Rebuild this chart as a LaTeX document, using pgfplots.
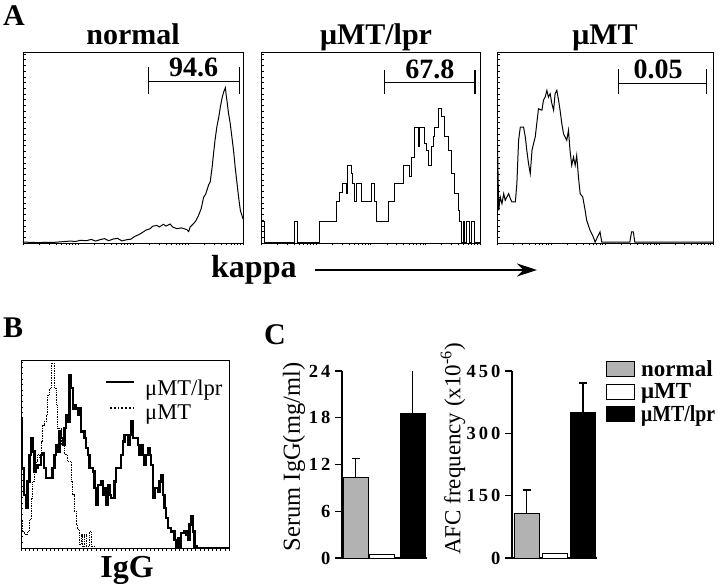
\documentclass[border=0pt]{standalone}
\usepackage{pgfplots}
\pgfplotsset{compat=1.18}
\usepackage{graphicx}
\usetikzlibrary{arrows.meta}
\usepackage{fontspec}
\setmainfont{Liberation Serif}
\newcommand{\fs}[1]{\fontsize{#1}{#1}\selectfont}
\begin{document}
\begin{tikzpicture}[x=1pt,y=1pt]
\useasboundingbox (0pt,0pt) rectangle (720pt,587pt);
\pgfplotsset{
  hist/.style={scale only axis, anchor=south west, xmin=0, xmax=100, ymin=0, ymax=100,
    axis line style={line width=0.9pt},
    xtick={0,7.5,11.9,15.1,17.5,19.5,21.1,22.6,23.9,25,32.5,36.9,40.1,42.5,44.5,46.1,47.6,48.9,50,57.5,61.9,65.1,67.5,69.5,71.1,72.6,73.9,75,82.5,86.9,90.1,92.5,94.5,96.1,97.6,98.9,100},
    xticklabels={}, ytick={0,3,...,99}, yticklabels={},
    xtick pos=bottom, ytick pos=left, xtick align=outside, ytick align=inside,
    major tick length=2.5pt, tick style={line width=0.5pt, black}},
  bars/.style={scale only axis, anchor=south west, width=85pt, height=187pt,
    xmin=0, xmax=85, ymin=0, axis lines=left, axis line style={line width=1.3pt, -},
    xtick=\empty, ytick pos=left, ytick align=outside, major tick length=7pt,
    tick style={line width=1.3pt, black},
    yticklabel style={font=\fs{18.5}\bfseries, xshift=-1pt},
    /pgf/number format/assume math mode=true,
    ybar, bar width=25, bar shift=0pt,
    error bars/y dir=plus, error bars/y explicit, error bars/error bar style={line width=1.3pt},
    error bars/error mark options={line width=1.3pt, mark size=4pt, rotate=90}},
}
% ---------- Panel A ----------
\node[anchor=base west, font=\fs{30}\bfseries, inner sep=0] at (3pt,561pt) {A};
\begin{axis}[hist, at={(23pt,344pt)}, width=220pt, height=191pt]
\addplot[black, line width=1pt] coordinates {
(0,0.5)(4,0.3)(7.6,0.2)(10,0.4)(13.7,0.3)(17,0.6)(21.3,1.0)(24,0.8)(26,1.4)(28.9,1.2)
(31,1.9)(33,1.0)(34.9,1.7)(37,2.3)(39,1.2)(41,2.1)(43,2.4)(45,1.1)(47.1,1.7)(49,2.0)
(50.9,3.5)(53,4.6)(54.7,5.8)(56,6.8)(57.8,7.5)(59,8.8)(60.8,9.2)(62,8.4)(63.8,9.8)(65,8.9)
(66.9,9.9)(68,8.4)(69.9,7.5)(72,7.9)(74.5,7.0)(75.3,6.0)(76,8.4)(77,9.6)(77.5,10.1)(78.5,11.5)
(79.8,14.5)(81,18)(82.1,24)(83,25.5)(83.6,27.6)(84.4,30.5)(85.1,32)(86,40)(86.6,46.8)(87.3,54)
(88.1,60.7)(89,66)(89.7,71.2)(90.5,76)(91.2,79)(92,81.3)(92.4,77)(92.7,74.7)(93.4,68)(94.2,62.5)
(95,55)(95.7,48.5)(96.5,39)(97.3,31)(98,24)(98.8,17)(100,12.7)};
\draw[line width=1pt] (axis cs:57,84.3) -- (axis cs:98.3,84.3);
\draw[line width=1.4pt] (axis cs:57,78.2) -- (axis cs:57,92.1);
\draw[line width=1.4pt] (axis cs:98.3,78.2) -- (axis cs:98.3,92.1);
\node[anchor=base, font=\fs{28}\bfseries, inner sep=0] at (axis cs:77.5,87) {94.6};
\end{axis}
\node[anchor=base, font=\fs{30}\bfseries, inner sep=0] at (133pt,542pt) {normal};

\begin{axis}[hist, at={(261pt,344pt)}, width=219pt, height=191pt]
\addplot[black, line width=1pt, const plot] coordinates {
(0,11)(1.5,0.5)(15.3,11)(16.5,0.5)(26.7,11)(34.4,21.5)(35.9,26.7)(37.4,31.1)(38.9,25.8)
(39.7,40.7)(41.2,36.3)(42,31.1)(42.7,21.5)(43.5,31.1)(45.8,21.5)(50.4,31.1)(51.9,21.5)
(52.7,11)(58,21.5)(61.1,31.1)(64.9,40.7)(67.9,34.6)(68.7,45)(70.2,60.7)(71.8,50.3)
(72.5,60.7)(74.8,52)(75.6,48.5)(76.3,40.7)(77.9,50.3)(78.6,55.5)(79.4,60.7)(80.9,70.3)
(82.4,66)(84,55.5)(85.5,48.5)(87,36.3)(88.5,25.8)(90.1,17.1)(90.8,11)(91.6,0.5)(92.4,11)
(93.1,0.5)(93.9,11)(95,0.5)(95.9,11)(97.7,0.5)(100,0.5)};
\draw[line width=1pt] (axis cs:56.5,83.9) -- (axis cs:97.7,83.9);
\draw[line width=1.4pt] (axis cs:56.5,78.2) -- (axis cs:56.5,90.4);
\draw[line width=1.4pt] (axis cs:97.7,78.2) -- (axis cs:97.7,90.4);
\node[anchor=base, font=\fs{28}\bfseries, inner sep=0] at (axis cs:77.1,86) {67.8};
\end{axis}
\node[anchor=base, font=\fs{30}\bfseries, inner sep=0] at (376pt,542pt) {μMT/lpr};

\begin{axis}[hist, at={(497pt,344pt)}, width=216pt, height=191pt]
\addplot[black, line width=1pt] coordinates {
(0,0)(0,65.1)(0.8,17.1)(1.5,24.1)(2.3,20.6)(3.1,25.8)(3.8,22.3)(4.6,24.1)(5.4,25.8)(6.2,23.2)
(6.9,21.5)(8.5,21.5)(9.2,31.1)(10,53.8)(10.8,60.7)(12.3,60.7)(13.1,55.5)(13.8,48.5)(14.6,41.5)
(15.4,36.3)(16.2,48.5)(16.9,52)(17.7,55.5)(18.5,63.4)(19.2,70.3)(20.8,69.5)(21.5,74.7)(22.3,76.4)
(23.1,79.9)(23.8,76.4)(24.6,78.2)(25.4,73)(26.2,69.5)(26.9,78.2)(27.7,79.9)(28.5,74.7)(29.2,69.5)
(30,62.5)(30.8,57.2)(32.3,53.8)(33.1,59)(33.8,48.5)(34.6,40.7)(35.4,45)(36.2,40.7)(36.9,45.9)
(37.7,34.6)(38.5,25.8)(39.7,24.1)(40.8,17.1)(41.5,11.9)(43.1,6.6)(44.6,3.1)(45.4,0.5)(47.7,5.8)
(48.5,0.5)(61.5,0.5)(62.3,5.8)(63.1,5.8)(63.8,0.5)(100,0.5)};
\draw[line width=1pt] (axis cs:56.2,83.4) -- (axis cs:96.9,83.4);
\draw[line width=1.4pt] (axis cs:56.2,78) -- (axis cs:56.2,91);
\draw[line width=1.4pt] (axis cs:96.9,78) -- (axis cs:96.9,91);
\node[anchor=base, font=\fs{28}\bfseries, inner sep=0] at (axis cs:74.6,86) {0.05};
\end{axis}
\node[anchor=base, font=\fs{30}\bfseries, inner sep=0] at (605pt,542pt) {μMT};

\node[anchor=base west, font=\fs{32}\bfseries, inner sep=0] at (211pt,309pt) {kappa};
\draw[line width=1.4pt, -{Stealth[length=20pt, width=13pt]}] (315pt,317pt) -- (537pt,317pt);

% ---------- Panel B ----------
\node[anchor=base west, font=\fs{30}\bfseries, inner sep=0] at (3pt,249pt) {B};
\begin{axis}[hist, at={(21pt,39pt)}, width=208pt, height=188pt,
  xtick={0,2,...,100}]
\addplot[black, line width=0.7pt, densely dotted, const plot] coordinates {
(0,14.2)(0.8,8.8)(1.6,7.1)(3.2,8.8)(4,15)(4.8,26.5)(5.6,35.4)(6.4,40.7)(7.2,46)(8,49.6)
(8.8,47.8)(9.6,56.6)(10.4,65.5)(11.2,67.3)(12,70.8)(12.8,81.4)(13.6,85)(14.4,98.2)(16.1,85)
(16.9,76.1)(17.7,63.7)(19.3,54.9)(20.9,49.6)(22.5,46)(24.1,35.4)(24.9,28.3)(25.7,19.5)
(26.5,12.4)(27.3,9.7)(28.1,1.8)(28.9,7.1)(29.7,0.9)(30.5,7.1)(31.3,0.9)(32.9,8.8)(33.7,0.9)
(35.3,0)(100,0)};
\addplot[black, line width=2.4pt, const plot] coordinates {
(0,69)(0.6,42.5)(1.3,28.3)(2.4,21.2)(3.2,35.4)(4,49.6)(4.8,58.4)(5.6,51.3)(6.4,40.7)(7.2,42.5)
(8,44.2)(9.6,49.6)(10.4,50.4)(11.2,42.5)(12,37.2)(15.2,42.5)(16.1,49.6)(16.9,54.9)(17.7,51.3)
(18.5,61.9)(19.3,58.4)(20.1,54.9)(20.9,63.7)(21.7,70.8)(22.5,67.3)(23.3,92)(24.1,85)(24.9,74.3)
(25.7,76.1)(26.5,74.3)(27.3,70.8)(28.1,74.3)(28.9,61.9)(30.5,58.4)(31.3,53.1)(32.1,49.6)
(32.9,42.5)(34.5,40.7)(35.3,31.9)(36.1,23)(36.9,33.6)(38.5,35.4)(39.3,28.3)(40.1,31.9)(40.9,23)
(41.7,33.6)(42.5,28.3)(43.3,26.5)(44.9,35.4)(45.7,42.5)(48.2,49.6)(49,56.6)(49.8,60.2)(51.4,54.9)
(52.2,60.2)(53,67.3)(53.8,58.4)(56.2,54.9)(57,49.6)(57.8,54.9)(58.6,49.6)(59.4,44.2)(60.2,49.6)
(61,53.1)(61.8,49.6)(62.6,44.2)(63.4,26.5)(64.2,31.9)(65.8,30.1)(66.6,35.4)(67.4,38.9)(68.2,28.3)
(69,21.2)(69.8,15.9)(70.6,10.6)(72.2,8.8)(73.8,4.4)(74.6,0.9)(75.4,5.3)(76.2,0.9)(77,8)(78.7,8.8)
(79.5,7.1)(80.3,4.4)(81.1,12.4)(81.9,16.8)(82.7,8.8)(83.5,0.9)(84.3,0)(100,0)};
\end{axis}
\draw[line width=2.4pt] (106pt,205pt) -- (134pt,205pt);
\draw[line width=1.8pt, dotted] (110pt,179pt) -- (134pt,179pt);
\node[anchor=base west, font=\fs{22.5}, inner sep=0] at (145pt,192pt) {μMT/lpr};
\node[anchor=base west, font=\fs{22.5}, inner sep=0] at (145pt,168pt) {μMT};
\node[anchor=base, font=\fs{32}\bfseries, inner sep=0] at (127pt,10pt) {IgG};

% ---------- Panel C ----------
\node[anchor=base west, font=\fs{30}\bfseries, inner sep=0] at (264pt,243pt) {C};
\begin{axis}[bars, at={(342pt,29pt)}, ymax=24, ytick={0,6,12,18,24},
  yticklabels={0,6,1\,2,1\,8,2\,4}]
\addplot[fill=black!30, draw=black, line width=1pt] coordinates {(13.5,10.3) +- (0,2.5)};
\addplot[fill=white, draw=black, line width=1pt] coordinates {(40,0.4)};
\addplot[fill=black, draw=black, line width=1pt] coordinates {(70.5,18.6) +- (0,5.6)};
\end{axis}
\node[rotate=90, anchor=center, font=\fs{24.5}, inner sep=0] at (294pt,130pt) {Serum IgG(mg/ml)};

\begin{axis}[bars, at={(512pt,29pt)}, ymax=450, ytick={0,150,300,450},
  yticklabels={0,1\,5\,0,3\,0\,0,4\,5\,0}]
\addplot[fill=black!30, draw=black, line width=1pt] coordinates {(14.5,108) +- (0,56)};
\addplot[fill=white, draw=black, line width=1pt] coordinates {(43,10)};
\addplot[fill=black, draw=black, line width=1pt] coordinates {(71,349) +- (0,72)};
\end{axis}
\node[rotate=90, anchor=center, font=\fs{23}, inner sep=0] at (453pt,138pt) {AFC frequency (x10\textsuperscript{-6})};

% legend
\draw[fill=black!30, line width=1pt] (606pt,210.5pt) rectangle (634pt,225.5pt);
\draw[fill=white, line width=1pt] (606pt,188pt) rectangle (634pt,203pt);
\draw[fill=black, line width=1pt] (606pt,165.5pt) rectangle (634pt,180.5pt);
\node[anchor=base west, font=\fs{23}\bfseries, inner sep=0] at (641pt,211pt) {normal};
\node[anchor=base west, font=\fs{23}\bfseries, inner sep=0] at (641pt,188.5pt) {μMT};
\node[anchor=base west, font=\fs{23}\bfseries, inner sep=0] at (641pt,166pt) {\scalebox{0.86}[1]{μMT/lpr}};
\end{tikzpicture}
\end{document}
